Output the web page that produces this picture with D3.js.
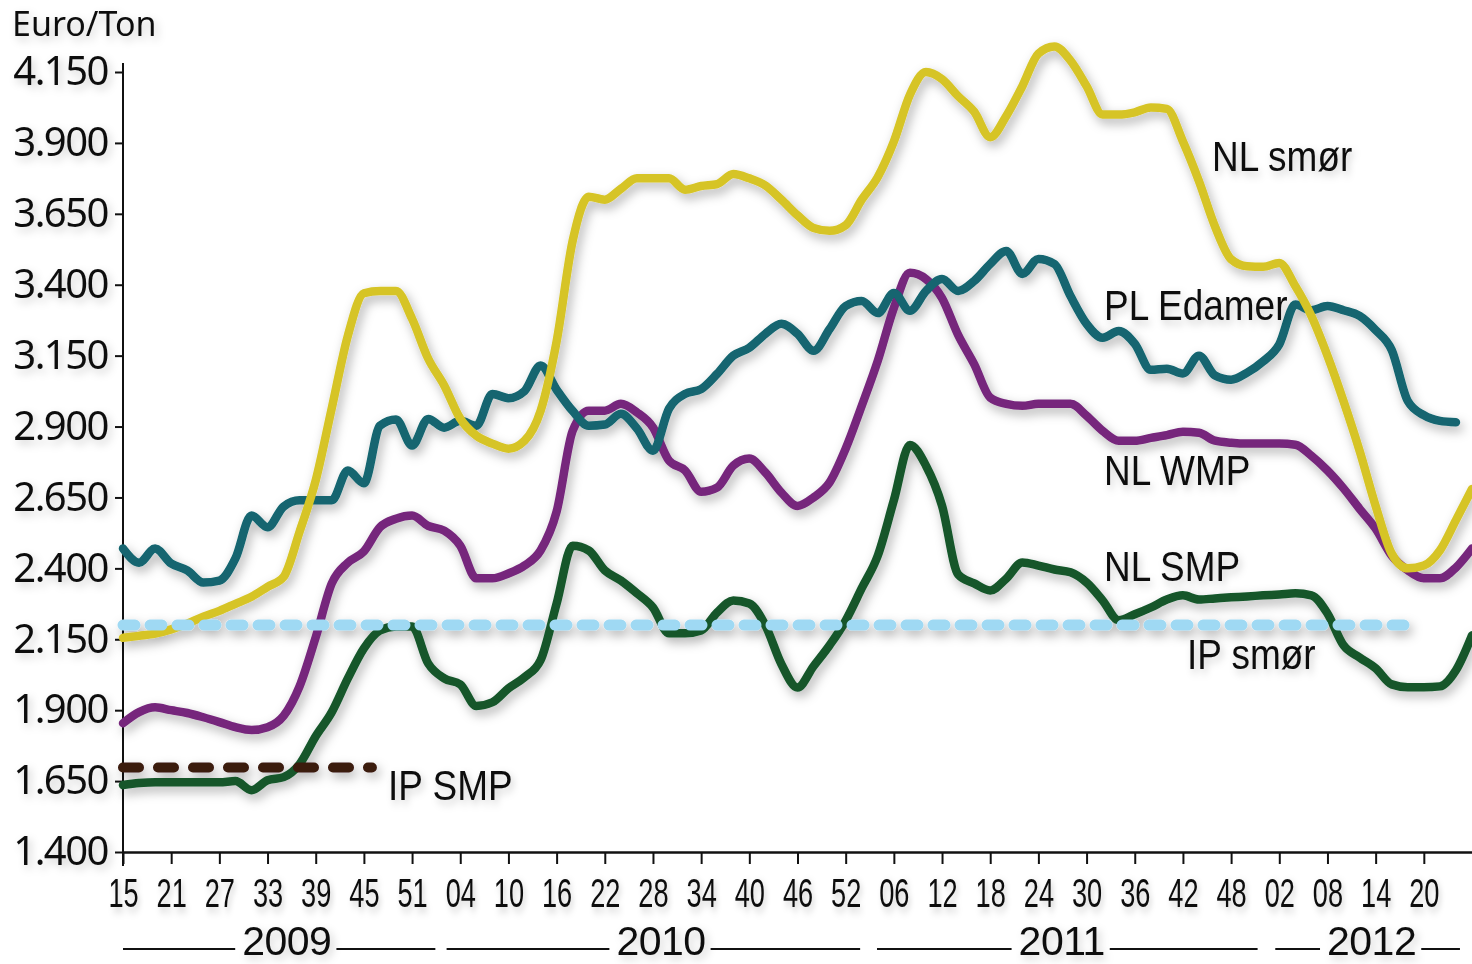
<!DOCTYPE html>
<html>
<head>
<meta charset="utf-8">
<script src="https://cdn.jsdelivr.net/npm/d3@7"></script>
<style>
  body { margin: 0; background: #fff; }
  svg { display: block; }
  text { fill: #111; }
</style>
</head>
<body>
<svg></svg>
<script>
const width = 1472, height = 964;

// x axis labels: ISO week numbers, one every 6 weeks from week 15 of 2009
const weekTicks = ["15","21","27","33","39","45","51","04","10","16","22","28","34","40","46","52",
                   "06","12","18","24","30","36","42","48","02","08","14","20"];
const years = ["2009", "2010", "2011", "2012"];
// year brackets, in weeks since week 15 2009
const yearFrom = [0, 40.3, 93.9, 143.5];
const yearTo = [38.9, 91.8, 141.3, 166.5];
const yearMid = [20.4, 67, 116.9, 155.5];

const yTicks = [1400, 1650, 1900, 2150, 2400, 2650, 2900, 3150, 3400, 3650, 3900, 4150];

// Euro/Ton, one value every second week starting week 15 2009
const nlSmor = [2155, 2162, 2170, 2185, 2205, 2230, 2250, 2275, 2300, 2335,
  2370, 2530, 2710, 2965, 3220, 3370, 3378, 3378, 3280, 3140,
  3045, 2928, 2868, 2840, 2822, 2850, 2955, 3200, 3555, 3710,
  3700, 3738, 3775, 3775, 3775, 3735, 3748, 3755, 3790, 3775,
  3750, 3700, 3645, 3600, 3590, 3610, 3700, 3780, 3905, 4070,
  4150, 4125, 4065, 4010, 3920, 3995, 4100, 4215, 4240, 4190,
  4100, 4000, 4000, 4008, 4025, 4020, 3905, 3765, 3605, 3490,
  3465, 3463, 3477, 3395, 3290, 3150, 2990, 2815, 2620, 2452,
  2400, 2410, 2463, 2570, 2680];

const plEdamer = [2470, 2420, 2470, 2417, 2393, 2350, 2357, 2435, 2586, 2545,
  2618, 2640, 2640, 2640, 2745, 2700, 2903, 2925, 2833, 2927,
  2896, 2920, 2903, 3015, 3000, 3025, 3115, 3030, 2955, 2903,
  2907, 2945, 2893, 2815, 2963, 3015, 3032, 3086, 3150, 3178,
  3227, 3262, 3227, 3167, 3244, 3325, 3343, 3300, 3371, 3308,
  3378, 3420, 3378, 3413, 3473, 3519, 3438, 3491, 3473, 3360,
  3262, 3213, 3237, 3192, 3100, 3104, 3087, 3150, 3080, 3065,
  3090, 3130, 3190, 3330, 3310, 3325, 3310, 3290, 3240, 3170,
  2990, 2940, 2920, 2915];

const nlWmp = [1854, 1893, 1910, 1900, 1890, 1875, 1858, 1840, 1830, 1840,
  1880, 1985, 2157, 2347, 2420, 2460, 2545, 2575, 2586, 2550,
  2533, 2480, 2365, 2365, 2382, 2410, 2463, 2600, 2885, 2956,
  2956, 2980, 2950, 2897, 2780, 2745, 2670, 2685, 2762, 2787,
  2738, 2667, 2620, 2650, 2703, 2822, 2973, 3132, 3318, 3442,
  3420, 3353, 3223, 3120, 3002, 2980, 2973, 2980, 2980, 2980,
  2938, 2885, 2850, 2850, 2860, 2870, 2882, 2878, 2850, 2843,
  2840, 2840, 2840, 2836, 2797, 2745, 2682, 2610, 2540, 2445,
  2393, 2365, 2365, 2403, 2470];

const nlSmp = [1636, 1643, 1646, 1646, 1646, 1646, 1646, 1650, 1618, 1653,
  1664, 1710, 1808, 1893, 2012, 2118, 2181, 2195, 2195, 2065,
  2012, 1991, 1915, 1928, 1977, 2016, 2076, 2276, 2480, 2463,
  2393, 2357, 2312, 2262, 2171, 2171, 2181, 2245, 2287, 2276,
  2199, 2062, 1980, 2055, 2129, 2216, 2330, 2445, 2640, 2835,
  2762, 2621, 2379, 2347, 2322, 2364, 2421, 2410, 2396, 2386,
  2350, 2287, 2217, 2238, 2262, 2290, 2305, 2290, 2294, 2298,
  2301, 2305, 2308, 2312, 2305, 2241, 2129, 2086, 2048, 1991,
  1981, 1981, 1984, 2041, 2164];

// intervention prices (flat), start and end week
const ipSmorWeeks = [0, 161];
const ipSmorValues = [2200, 2200];
const ipSmpWeeks = [0, 31];
const ipSmpValues = [1698, 1698];

const svg = d3.select("svg")
    .attr("width", width)
    .attr("height", height);

// soft drop shadow for the lines (whole-canvas region) and for texts (bbox region)
const defs = svg.append("defs");
const shadow = defs.append("filter")
    .attr("id", "shadow")
    .attr("filterUnits", "userSpaceOnUse")
    .attr("x", 0).attr("y", 0).attr("width", width).attr("height", height);
shadow.append("feDropShadow")
    .attr("dx", 3).attr("dy", 5)
    .attr("stdDeviation", 5.5)
    .attr("flood-color", "#000")
    .attr("flood-opacity", 0.3);
const tshadow = defs.append("filter")
    .attr("id", "tshadow")
    .attr("x", "-30%").attr("y", "-50%").attr("width", "160%").attr("height", "200%");
tshadow.append("feDropShadow")
    .attr("dx", 3).attr("dy", 4)
    .attr("stdDeviation", 4)
    .attr("flood-color", "#000")
    .attr("flood-opacity", 0.2);

const x = d3.scaleLinear().domain([0, 168]).range([123, 1472]);
const y = d3.scaleLinear().domain([1400, 4150]).range([852, 72]);

const fmt = d3.formatLocale({decimal: ",", thousands: ".", grouping: [3], currency: ["", ""]}).format(",");

// y axis
const yAxis = svg.append("g")
    .attr("transform", "translate(123,0)")
    .call(d3.axisLeft(y).tickValues(yTicks).tickSize(8).tickSizeOuter(0).tickPadding(7).tickFormat(fmt));
yAxis.select(".domain").remove();
yAxis.selectAll("line").attr("stroke", "#111").attr("stroke-width", 2);
yAxis.selectAll("text")
    .style("font-family", "'Noto Sans', sans-serif")
    .style("font-size", "40px")
    .style("letter-spacing", "-1.5px")
    .attr("fill", "#111")
    .attr("filter", "url(#tshadow)");

svg.append("line")
    .attr("x1", 123).attr("x2", 123)
    .attr("y1", 63).attr("y2", 866)
    .attr("stroke", "#111").attr("stroke-width", 2);

// x axis
const xAxis = svg.append("g")
    .attr("transform", "translate(0,852)")
    .call(d3.axisBottom(x).tickValues(d3.range(0, 163, 6)).tickSize(12).tickSizeOuter(0).tickPadding(15)
      .tickFormat((d, i) => weekTicks[i]));
xAxis.select(".domain").attr("stroke", "#111").attr("stroke-width", 2.5);
xAxis.selectAll("line").attr("stroke", "#111").attr("stroke-width", 2);
xAxis.selectAll("text")
    .style("font-family", "'Liberation Sans', sans-serif")
    .style("font-size", "40px")
    .attr("transform", "scale(0.68,1)")
    .attr("fill", "#111")
    .attr("filter", "url(#tshadow)");

// year brackets
const yearG = svg.append("g");
years.forEach((yr, i) => {
  const t = yearG.append("text")
      .attr("x", x(yearMid[i]))
      .attr("y", 955)
      .attr("text-anchor", "middle")
      .style("font-family", "'Liberation Sans', sans-serif")
      .style("font-size", "41px")
      .style("letter-spacing", "-0.5px")
      .attr("filter", "url(#tshadow)")
      .text(yr);
  const b = t.node().getBBox();
  yearG.append("line")
      .attr("x1", x(yearFrom[i])).attr("x2", b.x - 7)
      .attr("y1", 949).attr("y2", 949)
      .attr("stroke", "#111").attr("stroke-width", 1.8);
  yearG.append("line")
      .attr("x1", b.x + b.width + 5).attr("x2", x(yearTo[i]))
      .attr("y1", 949).attr("y2", 949)
      .attr("stroke", "#111").attr("stroke-width", 1.8);
});

// series
const line = d3.line()
    .x((d, i) => x(i * 2))
    .y(d => y(d))
    .curve(d3.curveMonotoneX);

const series = [
  {values: nlWmp, color: "#76287c"},
  {values: plEdamer, color: "#12656f"},
  {values: nlSmor, color: "#d6c427"},
  {values: nlSmp, color: "#14572b"}
];

const lines = svg.append("g").attr("filter", "url(#shadow)");
series.forEach(s => {
  lines.append("path")
      .datum(s.values)
      .attr("d", line)
      .attr("fill", "none")
      .attr("stroke", s.color)
      .attr("stroke-width", 8.5)
      .attr("stroke-linejoin", "round")
      .attr("stroke-linecap", "round");
});

const flat = d3.line().x(d => x(d[0])).y(d => y(d[1]));
lines.append("path")
    .datum(d3.zip(ipSmorWeeks, ipSmorValues))
    .attr("d", flat)
    .attr("fill", "none")
    .attr("stroke", "#9fd9f3")
    .attr("stroke-width", 11)
    .attr("stroke-linecap", "round")
    .attr("stroke-dasharray", "12 15");
lines.append("path")
    .datum(d3.zip(ipSmpWeeks, ipSmpValues))
    .attr("d", flat)
    .attr("fill", "none")
    .attr("stroke", "#3b1a0f")
    .attr("stroke-width", 10)
    .attr("stroke-linecap", "round")
    .attr("stroke-dasharray", "16 19");

// labels, condensed like the original
const labels = [
  {text: "NL smør", x: 1212, y: 171},
  {text: "PL Edamer", x: 1104, y: 320},
  {text: "NL WMP", x: 1104, y: 485},
  {text: "NL SMP", x: 1104, y: 581},
  {text: "IP smør", x: 1187, y: 669},
  {text: "IP SMP", x: 388, y: 800}
];
svg.append("g").selectAll("text")
  .data(labels)
  .enter()
  .append("text")
    .attr("transform", d => "translate(" + d.x + "," + d.y + ") scale(0.88,1)")
    .style("font-family", "'Liberation Sans', sans-serif")
    .style("font-size", "42px")
    .attr("filter", "url(#tshadow)")
    .text(d => d.text);

svg.append("text")
    .attr("x", 12)
    .attr("y", 36)
    .style("font-family", "'Noto Sans', sans-serif")
    .style("font-size", "34px")
    .attr("filter", "url(#tshadow)")
    .text("Euro/Ton");
</script>
</body>
</html>
